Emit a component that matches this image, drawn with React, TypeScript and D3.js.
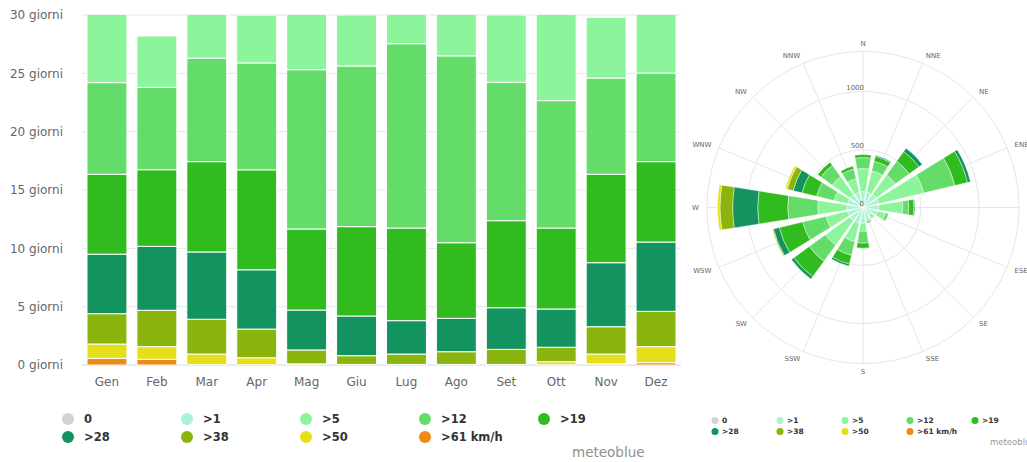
import React from "react";
import * as d3 from "d3";

// ---------- Monthly wind speed days ----------
const months = ["Gen", "Feb", "Mar", "Apr", "Mag", "Giu", "Lug", "Ago", "Set", "Ott", "Nov", "Dez"];
const yTicks = [0, 5, 10, 15, 20, 25, 30];

const d61 = [0.57, 0.49, 0.03, 0.02, 0, 0, 0, 0, 0, 0.02, 0.1, 0.2];
const d50 = [1.23, 1.08, 0.91, 0.6, 0.1, 0.05, 0.05, 0.05, 0.05, 0.26, 0.84, 1.37];
const d38 = [2.6, 3.12, 2.98, 2.46, 1.19, 0.75, 0.89, 1.09, 1.29, 1.24, 2.34, 3.03];
const d28 = [5.1, 5.48, 5.77, 5.08, 3.42, 3.4, 2.86, 2.86, 3.57, 3.28, 5.49, 5.94];
const d19 = [6.85, 6.57, 7.74, 8.57, 6.95, 7.66, 7.94, 6.48, 7.46, 6.94, 7.58, 6.89];
const d12 = [7.85, 7.06, 8.87, 9.16, 13.65, 13.77, 15.8, 16.02, 11.86, 10.92, 8.25, 7.6];
const d5 = [6.8, 4.4, 4.7, 4.1, 5.7, 4.37, 3.46, 4.5, 5.77, 8.34, 5.2, 5.97];

// ---------- Wind rose (hours per direction) ----------
const directions = ["N", "NNE", "NE", "ENE", "E", "ESE", "SE", "SSE", "S", "SSW", "SW", "WSW", "W", "WNW", "NW", "NNW"];
const r1 = [138, 135, 140, 142, 136, 130, 86, 103, 136, 140, 142, 138, 140, 136, 138, 134];
const r5 = [198, 190, 207, 397, 207, 69, 26, 17, 69, 164, 259, 190, 250, 121, 190, 121];
const r12 = [95, 86, 147, 276, 52, 26, 9, 9, 103, 121, 172, 207, 259, 155, 121, 86];
const r19 = [26, 43, 103, 112, 43, 0, 0, 9, 43, 78, 164, 207, 259, 129, 34, 26];
const r28 = [0, 9, 34, 26, 9, 0, 0, 0, 0, 17, 26, 52, 216, 78, 0, 0];
const r38 = [0, 0, 0, 0, 0, 0, 0, 0, 0, 0, 0, 9, 109, 52, 0, 0];
const r50 = [0, 0, 0, 0, 0, 0, 0, 0, 0, 0, 0, 4, 21, 17, 0, 0];
const roseTicks = [0, 500, 1000];
const roseMax = 1345;

const legendLabels = ["0", ">1", ">5", ">12", ">19", ">28", ">38", ">50", ">61 km/h"];
const colors: Record<string, string> = {
  "0": "#d4d2d2",
  ">1": "#aaf2d4",
  ">5": "#8cf59b",
  ">12": "#64dc6a",
  ">19": "#30bb1e",
  ">28": "#12935f",
  ">38": "#8ab40e",
  ">50": "#e5df19",
  ">61 km/h": "#ef8a13",
};

const FONT = "'DejaVu Sans', Verdana, sans-serif";

export default function App() {
  // ---- bar chart ----
  const barKeys = [">61 km/h", ">50", ">38", ">28", ">19", ">12", ">5"];
  const barSeries = [d61, d50, d38, d28, d19, d12, d5];
  const rows = months.map((m, i) => {
    const o: any = { month: m };
    barKeys.forEach((k, j) => (o[k] = barSeries[j][i]));
    return o;
  });
  const stacked = d3.stack<any>().keys(barKeys)(rows);
  const x = d3.scaleBand<string>().domain(months).range([82, 681]).paddingInner(0.2).paddingOuter(0.1);
  const y = d3.scaleLinear().domain([0, 30]).range([365, 15]);

  // ---- rose ----
  const cx = 863, cy = 207.5;
  const rKeys = [">1", ">5", ">12", ">19", ">28", ">38", ">50"];
  const rSeries = [r1, r5, r12, r19, r28, r38, r50];
  const rRows = directions.map((d, i) => {
    const o: any = { dir: d };
    rKeys.forEach((k, j) => (o[k] = rSeries[j][i]));
    return o;
  });
  const rStacked = d3.stack<any>().keys(rKeys)(rRows);
  const rScale = d3.scaleLinear().domain([0, roseMax]).range([0, 156]);
  const ang = d3.scaleBand<string>().domain(directions).range([-Math.PI / 16, 2 * Math.PI - Math.PI / 16]).paddingInner(0.2).paddingOuter(0.1);
  const arc = d3.arc<any>();
  const step = (2 * Math.PI) / 16;

  const legend = (x0: number, y0: number, dx: number, dy: number, r: number, fs: number, tx: number) =>
    legendLabels.map((l, i) => {
      const col = i % 5, row = Math.floor(i / 5);
      const px = x0 + col * dx, py = y0 + row * dy;
      return (
        <g key={l}>
          <circle cx={px} cy={py} r={r} fill={colors[l]} />
          <text x={px + tx} y={py} dy="0.35em" fontSize={fs} fontWeight="bold" fill="#333" fontFamily={FONT}>
            {l}
          </text>
        </g>
      );
    });

  return (
    <svg width={1027} height={462} style={{ position: "fixed", left: 0, top: 0, background: "#fff" }}>
      <defs>
        <clipPath id="plotclip">
          <rect x={82} y={15} width={599} height={350} />
        </clipPath>
      </defs>
      {/* grid */}
      {yTicks.map((t) => (
        <g key={t}>
          <line x1={82} x2={681} y1={y(t)} y2={y(t)} stroke={t === 0 ? "#ccd6eb" : "#e6e6e6"} strokeWidth={1} />
          <text x={63} y={y(t)} dy="0.35em" textAnchor="end" fontSize={12} fill="#666" fontFamily={FONT}>
            {t} giorni
          </text>
        </g>
      ))}
      <g clipPath="url(#plotclip)">
        {stacked.map((s) => (
          <g key={s.key} fill={colors[s.key]}>
            {s.map((d, i) =>
              d[1] - d[0] > 0 ? (
                <rect
                  key={i}
                  x={x(months[i])}
                  width={x.bandwidth()}
                  y={y(d[1])}
                  height={y(d[0]) - y(d[1])}
                  stroke="#fff"
                  strokeWidth={1}
                />
              ) : null
            )}
          </g>
        ))}
      </g>
      {months.map((m) => (
        <text key={m} x={x(m)! + x.bandwidth() / 2} y={382} dy="0.35em" textAnchor="middle" fontSize={12} fill="#666" fontFamily={FONT}>
          {m}
        </text>
      ))}
      {legend(68, 419, 119, 18, 6, 11.5, 16)}
      <text x={572} y={452} dy="0.35em" fontSize={13.5} fill="#909090" fontFamily={FONT}>
        meteoblue
      </text>

      {/* wind rose */}
      <g transform={`translate(${cx},${cy})`}>
        {[...roseTicks.slice(1), roseMax].map((t) => (
          <circle key={t} r={rScale(t)} fill="none" stroke="#e6e6e6" strokeWidth={1} />
        ))}
        {directions.map((d, i) => {
          const a = i * step;
          return (
            <line key={d} x1={0} y1={0} x2={Math.sin(a) * rScale(roseMax)} y2={-Math.cos(a) * rScale(roseMax)} stroke="#e6e6e6" strokeWidth={1} />
          );
        })}
        {rStacked.map((s) => (
          <g key={s.key} fill={colors[s.key]}>
            {s.map((d, i) =>
              d[1] - d[0] > 0 ? (
                <path
                  key={i}
                  d={arc({
                    innerRadius: rScale(d[0]),
                    outerRadius: rScale(d[1]),
                    startAngle: ang(directions[i])!,
                    endAngle: ang(directions[i])! + ang.bandwidth(),
                  })!}
                  stroke="#fff"
                  strokeWidth={0.4}
                />
              ) : null
            )}
          </g>
        ))}
        {roseTicks.map((t) => (
          <text key={t} x={1} y={-rScale(t) - 1.5} textAnchor="end" fontSize={7} fill="#666" fontFamily={FONT}>
            {t}
          </text>
        ))}
        {directions.map((d, i) => {
          const a = i * step;
          const deg = i * 22.5;
          const anchor = deg > 20 && deg < 160 ? "start" : deg > 200 && deg < 340 ? "end" : "middle";
          const rr = 164;
          return (
            <text
              key={d}
              x={Math.sin(a) * rr}
              y={-Math.cos(a) * rr}
              dy="0.35em"
              textAnchor={anchor}
              fontSize={7}
              fill="#666"
              fontFamily={FONT}
            >
              {d}
            </text>
          );
        })}
      </g>
      {legend(715, 420.5, 65, 11, 3.5, 7.5, 7)}
      <text x={990} y={442} dy="0.35em" fontSize={8.5} fill="#999" fontFamily={FONT}>
        meteoblue
      </text>
    </svg>
  );
}
